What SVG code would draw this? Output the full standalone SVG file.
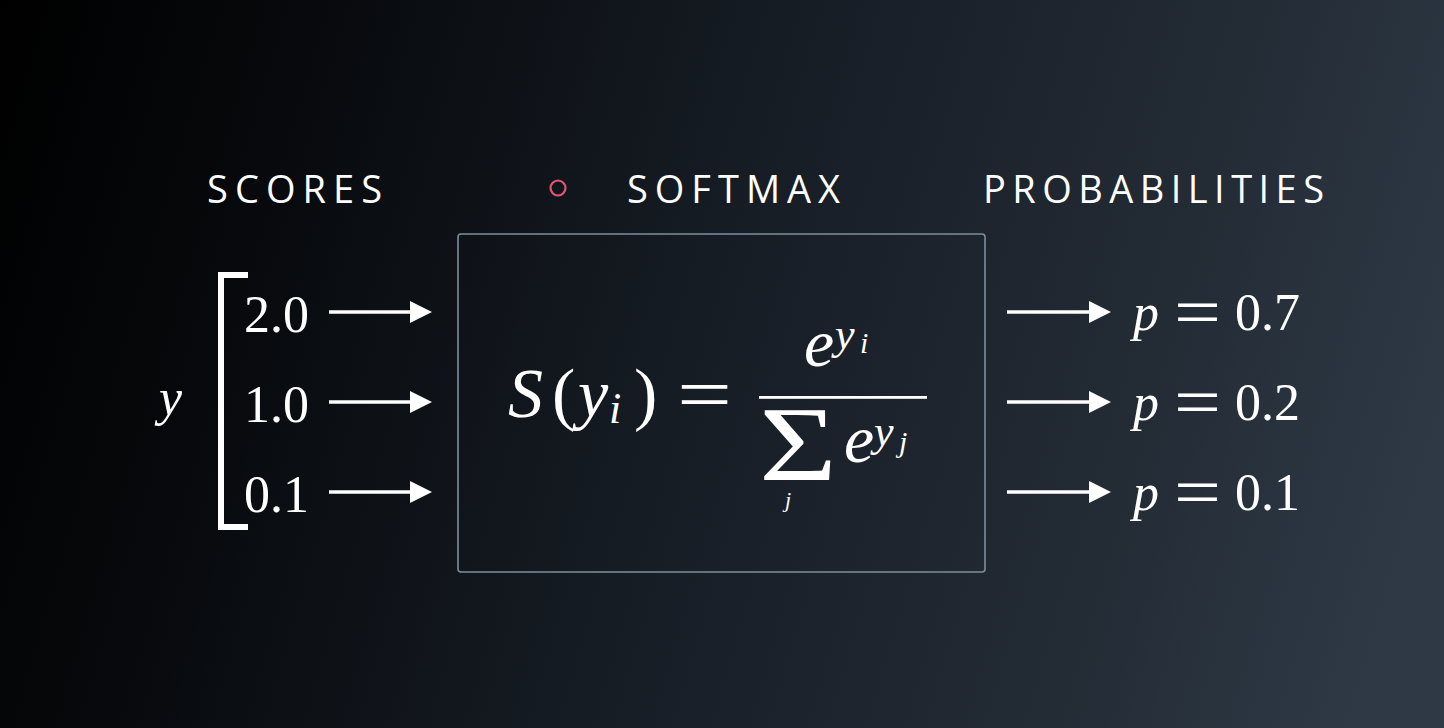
<svg xmlns="http://www.w3.org/2000/svg" width="1444" height="728" viewBox="0 0 1444 728">
<defs>
<linearGradient id="bg" x1="0" y1="0" x2="1444" y2="420" gradientUnits="userSpaceOnUse">
<stop offset="0" stop-color="#000000"/>
<stop offset="0.2" stop-color="#07090c"/>
<stop offset="0.5" stop-color="#161c24"/>
<stop offset="0.8" stop-color="#232b35"/>
<stop offset="1" stop-color="#2e3945"/>
</linearGradient>
<style>
.hd{font-family:"Open Sans","Liberation Sans",sans-serif;font-size:38px;fill:#ffffff;}
.mt{font-family:"Liberation Serif","Times New Roman",Times,"Noto Serif","DejaVu Serif",serif;fill:#ffffff;}
.ar{stroke:#ffffff;stroke-width:3.5;fill:none;}
.ahd{fill:#ffffff;}
</style>
</defs>
<rect width="1444" height="728" fill="url(#bg)"/>

<g id="headings">
<text class="hd" x="207" y="203" textLength="175" lengthAdjust="spacing">SCORES</text>
<circle cx="558" cy="188" r="7.5" fill="none" stroke="#e3566f" stroke-width="2.2"/>
<text class="hd" x="627" y="203" textLength="213" lengthAdjust="spacing">SOFTMAX</text>
<text class="hd" x="983" y="203" textLength="341" lengthAdjust="spacing">PROBABILITIES</text>
</g>

<g class="mt">
<g id="scores">
<text x="159" y="415" font-size="52" font-style="italic">y</text>
<path d="M248,275 L221,275 L221,527 L248,527" fill="none" stroke="#ffffff" stroke-width="6"/>
<text x="244" y="332" font-size="52">2.0</text>
<text x="244" y="422" font-size="52">1.0</text>
<text x="244" y="512" font-size="52">0.1</text>
</g>

<g id="softmax">
<rect x="458" y="234" width="527" height="338" rx="3" fill="none" stroke="#7e8e9c" stroke-width="1.6"/>
<text x="508" y="417" font-size="70" font-style="italic">S</text>
<text x="552" y="417" font-size="70">(</text>
<text x="578" y="417" font-size="68" font-style="italic">y</text>
<text x="609" y="423" font-size="44" font-style="italic">i</text>
<text x="634" y="417" font-size="70">)</text>
<text x="677" y="420" font-size="76" textLength="55" lengthAdjust="spacingAndGlyphs">=</text>
<text x="804" y="366" font-size="68" font-style="italic">e</text>
<text x="835" y="349" font-size="44" font-style="italic">y</text>
<text x="860" y="353" font-size="30" font-style="italic">i</text>
<rect x="759" y="396" width="168" height="2.8" fill="#ffffff"/>
<text x="759" y="480" font-size="105" textLength="78" lengthAdjust="spacingAndGlyphs">Σ</text>
<text x="785" y="507" font-size="22" font-style="italic">j</text>
<text x="844" y="462" font-size="68" font-style="italic">e</text>
<text x="874" y="446" font-size="44" font-style="italic">y</text>
<text x="899" y="452" font-size="30" font-style="italic">j</text>
</g>

<g id="probabilities">
<text x="1133" y="330" font-size="52" font-style="italic">p</text>
<text x="1174" y="336" font-size="70" textLength="47" lengthAdjust="spacingAndGlyphs">=</text>
<text x="1235" y="330" font-size="52">0.7</text>
<text x="1133" y="420" font-size="52" font-style="italic">p</text>
<text x="1174" y="426" font-size="70" textLength="47" lengthAdjust="spacingAndGlyphs">=</text>
<text x="1235" y="420" font-size="52">0.2</text>
<text x="1133" y="510" font-size="52" font-style="italic">p</text>
<text x="1174" y="516" font-size="70" textLength="47" lengthAdjust="spacingAndGlyphs">=</text>
<text x="1235" y="510" font-size="52">0.1</text>
</g>
</g>

<g id="connectors">
<line class="ar" x1="329" y1="312" x2="412" y2="312"/>
<path class="ahd" d="M410,301 L432,312 L410,323 Z"/>
<line class="ar" x1="329" y1="402" x2="412" y2="402"/>
<path class="ahd" d="M410,391 L432,402 L410,413 Z"/>
<line class="ar" x1="329" y1="492" x2="412" y2="492"/>
<path class="ahd" d="M410,481 L432,492 L410,503 Z"/>
<line class="ar" x1="1007" y1="312" x2="1091" y2="312"/>
<path class="ahd" d="M1089,301 L1111,312 L1089,323 Z"/>
<line class="ar" x1="1007" y1="402" x2="1091" y2="402"/>
<path class="ahd" d="M1089,391 L1111,402 L1089,413 Z"/>
<line class="ar" x1="1007" y1="492" x2="1091" y2="492"/>
<path class="ahd" d="M1089,481 L1111,492 L1089,503 Z"/>
</g>
</svg>
